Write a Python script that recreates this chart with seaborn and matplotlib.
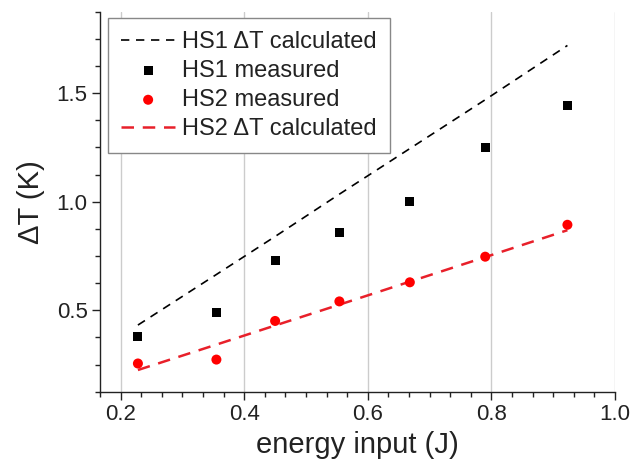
import numpy as np
import pandas as pd
import matplotlib
matplotlib.use('Agg')
import matplotlib.pyplot as plt
import seaborn as sns

# --- data ---
energy = [0.228, 0.355, 0.450, 0.554, 0.668, 0.790, 0.923]
hs1_measured = [0.38, 0.49, 0.73, 0.86, 1.00, 1.25, 1.445]
hs2_measured = [0.255, 0.273, 0.451, 0.541, 0.629, 0.747, 0.894]
hs1_calc = [0.432, 0.665, 0.840, 1.035, 1.245, 1.470, 1.720]
hs2_calc = [0.225, 0.342, 0.430, 0.526, 0.632, 0.745, 0.869]

x_ticks = [0.2, 0.4, 0.6, 0.8, 1.0]
y_ticks = [0.5, 1.0, 1.5]

df = pd.DataFrame({
    'energy': energy,
    'hs1_measured': hs1_measured,
    'hs2_measured': hs2_measured,
    'hs1_calc': hs1_calc,
    'hs2_calc': hs2_calc,
})

sns.set_style("ticks")
plt.rcParams['font.family'] = ['Liberation Sans', 'DejaVu Sans']

fig = plt.figure(figsize=(6.35, 4.69), dpi=100)
ax = fig.add_axes([0.1575, 0.1648, 0.811, 0.810])

sns.lineplot(data=df, x='energy', y='hs1_calc', ax=ax, color='black', lw=1.2,
             dashes=False, linestyle=(0, (5, 4)), label='HS1 \u0394T calculated')
sns.scatterplot(data=df, x='energy', y='hs1_measured', ax=ax, color='black',
                marker='s', s=42, edgecolor='none', label='HS1 measured', zorder=3)
sns.scatterplot(data=df, x='energy', y='hs2_measured', ax=ax, color='#ff0000',
                marker='o', s=52, edgecolor='none', label='HS2 measured', zorder=3)
sns.lineplot(data=df, x='energy', y='hs2_calc', ax=ax, color='#e8202a', lw=1.8,
             dashes=False, linestyle=(0, (5, 3.5)), label='HS2 \u0394T calculated')

ax.set_xlim(1 / 6, 1.0)
ax.set_ylim(0.125, 1.875)
ax.set_xticks(x_ticks)
ax.set_yticks(y_ticks)
ax.set_xticks(np.arange(1 / 6, 1.0, 0.2 / 6), minor=True)
ax.set_yticks(np.arange(0.125, 1.876, 0.125), minor=True)
ax.set_xticklabels([f'{t:.1f}' for t in x_ticks])
ax.set_yticklabels([f'{t:.1f}' for t in y_ticks])

ax.grid(True, axis='x', color='#cccccc', lw=1.0)
ax.set_axisbelow(True)
for side in ['top', 'right']:
    ax.spines[side].set_visible(False)
for side in ['left', 'bottom']:
    ax.spines[side].set_color('#222222')
    ax.spines[side].set_linewidth(1.0)

ax.tick_params(axis='both', which='major', direction='out', length=6, width=1.0,
               labelsize=16, colors='#222222', pad=3)
ax.tick_params(axis='both', which='minor', direction='out', length=3.5, width=1.0,
               colors='#222222')

ax.set_xlabel('energy input (J)', fontsize=21, color='#222222', labelpad=4)
ax.set_ylabel('\u0394T (K)', fontsize=21, color='#222222', labelpad=8)

leg = ax.legend(loc='upper left', bbox_to_anchor=(0.0155, 0.983), borderaxespad=0,
                fontsize=17, frameon=True, fancybox=False, handlelength=2.3,
                handletextpad=0.3, labelspacing=0.29, borderpad=0.55)
leg.get_frame().set_edgecolor('#888888')
leg.get_frame().set_linewidth(1.0)
leg.get_frame().set_alpha(1.0)
for txt in leg.get_texts():
    txt.set_color('#222222')

fig.savefig('out.png', dpi=100)
